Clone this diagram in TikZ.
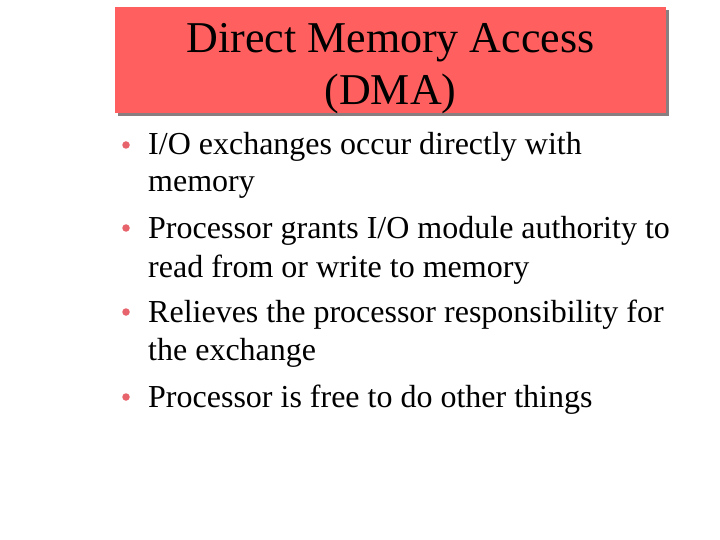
\documentclass[tikz,border=0pt]{standalone}
\usepackage{fontspec}
\setmainfont{Liberation Serif}
\definecolor{titlered}{HTML}{FF5F5F}
\definecolor{bulletred}{HTML}{E8646C}
\definecolor{shadowgray}{HTML}{8A7F80}
\begin{document}
\begin{tikzpicture}[x=1pt,y=-1pt,
  titletext/.style={font=\fontsize{44}{52}\selectfont, anchor=base, inner sep=0pt},
  bullettext/.style={font=\fontsize{32}{38}\selectfont, anchor=base west, inner sep=0pt},
  bulletdot/.style={circle, fill=bulletred, minimum size=7.5pt, inner sep=0pt}]
\useasboundingbox (0,0) rectangle (720,540);
\fill[white] (0,0) rectangle (720,540);
% shadow and title box
\fill[shadowgray] (118,10) rectangle (669,116);
\fill[titlered] (115,7) rectangle (666,113);
\node[titletext] (t1) at (390.5,53) {Direct Memory Access};
\node[titletext] (t2) at (390.5,105) {(DMA)};
% bullets
\node[bulletdot] (d1) at (126,145) {};
\node[bullettext] (b1a) at (148,155) {I/O exchanges occur directly with};
\node[bullettext] (b1b) at (148,192) {memory};
\node[bulletdot] (d2) at (126,228) {};
\node[bullettext] (b2a) at (148,238) {Processor grants I/O module authority to};
\node[bullettext] (b2b) at (148,277) {read from or write to memory};
\node[bulletdot] (d3) at (126,312) {};
\node[bullettext] (b3a) at (148,322) {Relieves the processor responsibility for};
\node[bullettext] (b3b) at (148,360) {the exchange};
\node[bulletdot] (d4) at (126,397) {};
\node[bullettext] (b4a) at (148,407) {Processor is free to do other things};
\end{tikzpicture}
\end{document}
